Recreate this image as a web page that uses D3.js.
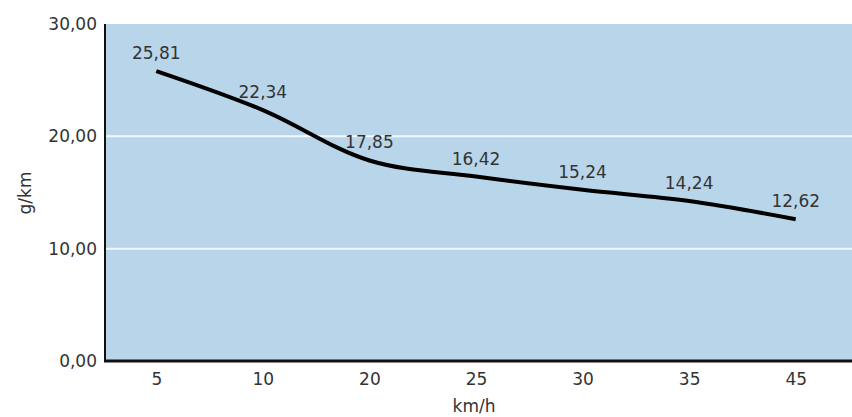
<!DOCTYPE html>
<html><head><meta charset="utf-8">
<script src="https://cdn.jsdelivr.net/npm/d3@7"></script>
<style>body{margin:0;background:#fff}svg{display:block}text{font-family:"DejaVu Sans",sans-serif;fill:#333}</style>
</head><body><svg id="c" width="852" height="417"></svg>
<script>
const categories = ["5","10","20","25","30","35","45"];
const values = [25.81, 22.34, 17.85, 16.42, 15.24, 14.24, 12.62];
const labels = ["25,81","22,34","17,85","16,42","15,24","14,24","12,62"];
const yTicks = [0, 10, 20, 30];
const yTickLabels = ["0,00","10,00","20,00","30,00"];

const svg = d3.select("#c");
const L = 105, R = 852, T = 24, B = 361;
const x = d3.scalePoint().domain(categories).range([L - 2, R - 3]).padding(0.5);
const y = d3.scaleLinear().domain([0, 30]).range([B, T]);
const FS = 17;
const FF = "DejaVu Sans, sans-serif";

svg.append("rect").attr("x", L).attr("y", T).attr("width", R-L).attr("height", B-T).attr("fill", "#b9d5ea");

svg.selectAll(".grid").data(yTicks.filter(d => d > 0 && d < 30)).enter().append("line")
  .attr("x1", L).attr("x2", R).attr("y1", d => y(d)).attr("y2", d => y(d))
  .attr("stroke", "#f4f8fb").attr("stroke-width", 2);

const ya = svg.append("g").attr("transform", `translate(${L},0)`)
  .call(d3.axisLeft(y).tickValues(yTicks).tickFormat((d,i) => yTickLabels[i]).tickSize(0).tickPadding(8));
ya.select(".domain").remove();
ya.selectAll("text").attr("font-size", FS).attr("fill", "#333").attr("font-family", FF);

const xa = svg.append("g").attr("transform", `translate(0,${B})`)
  .call(d3.axisBottom(x).tickSize(0).tickPadding(12));
xa.select(".domain").remove();
xa.selectAll("text").attr("font-size", FS).attr("fill", "#333").attr("font-family", FF);

svg.append("line").attr("x1", L).attr("x2", L).attr("y1", T).attr("y2", B+1).attr("stroke", "#111").attr("stroke-width", 2);
svg.append("line").attr("x1", L-1).attr("x2", R).attr("y1", B).attr("y2", B).attr("stroke", "#111").attr("stroke-width", 3);

const line = d3.line().x((d,i) => x(categories[i])).y(d => y(d)).curve(d3.curveCatmullRom.alpha(0.5));
svg.append("path").datum(values).attr("d", line).attr("fill", "none").attr("stroke", "#000").attr("stroke-width", 4);

svg.selectAll(".lbl").data(values).enter().append("text")
  .attr("x", (d,i) => x(categories[i]))
  .attr("y", d => y(d) - 12)
  .attr("text-anchor", "middle").attr("font-size", FS)
  .text((d,i) => labels[i]);

svg.append("text").attr("transform", "translate(31,193) rotate(-90)").attr("text-anchor", "middle").attr("font-size", FS).text("g/km");
svg.append("text").attr("x", 474).attr("y", 412).attr("text-anchor", "middle").attr("font-size", FS).text("km/h");
</script></body></html>
